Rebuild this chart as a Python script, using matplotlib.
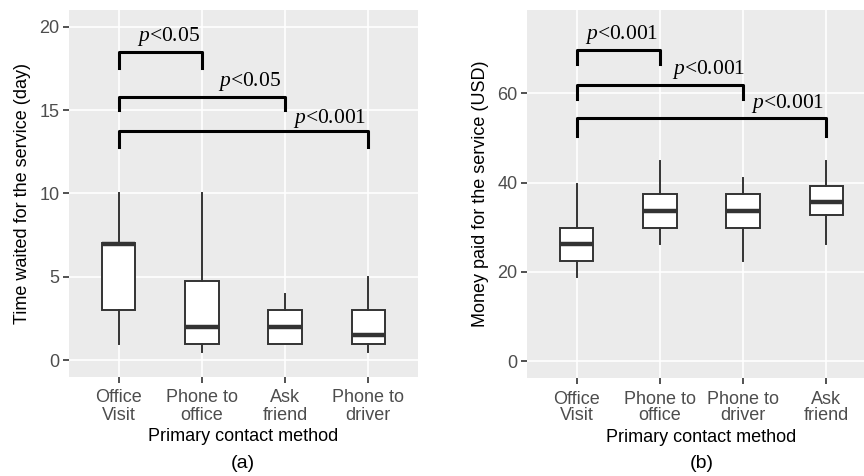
import matplotlib.pyplot as plt

plt.rcParams['font.family'] = ['Liberation Sans', 'DejaVu Sans']
plt.rcParams['mathtext.fontset'] = 'custom'
plt.rcParams['mathtext.it'] = 'Liberation Serif:italic'
plt.rcParams['mathtext.rm'] = 'Liberation Serif'

# (a) waiting time, days
cats_a = ["Office\nVisit", "Phone to\noffice", "Ask\nfriend", "Phone to\ndriver"]
wait_low = [1, 0.5, 1, 0.5]
wait_q1 = [3, 1, 1, 1]
wait_med = [7, 2, 2, 1.5]
wait_q3 = [7.05, 4.75, 3, 3]
wait_high = [10, 10, 4, 5]

# (b) money paid, USD
cats_b = ["Office\nVisit", "Phone to\noffice", "Phone to\ndriver", "Ask\nfriend"]
pay_low = [18.9, 26.2, 22.4, 26.2]
pay_q1 = [22.4, 29.9, 29.9, 32.7]
pay_med = [26.2, 33.7, 33.7, 35.6]
pay_q3 = [29.9, 37.5, 37.5, 39.3]
pay_high = [39.6, 44.9, 41.1, 44.9]

# significance brackets: (to group, bar height, leg bottom, label, label x, label y)
sig_a = [(2, 18.5, 17.5, "<0.05", 1.6, 19.4),
         (3, 15.8, 15.0, "<0.05", 2.57, 16.7),
         (4, 13.75, 12.8, "<0.001", 3.53, 14.5)]
sig_b = [(2, 69.8, 66.6, "<0.001", 1.54, 73.1),
         (3, 61.9, 58.7, "<0.001", 2.58, 65.3),
         (4, 54.4, 50.4, "<0.001", 3.54, 57.8)]

fig = plt.figure(figsize=(8.64, 4.76), dpi=100)
ax_a = fig.add_axes([69/864, 99/476, 349/864, 367/476])
ax_b = fig.add_axes([527/864, 98/476, 349/864, 368/476])


def draw_panel(ax, cats, low, q1, med, q3, high, sigs, ylim, yticks, ylabel):
    stats = []
    for i in range(len(cats)):
        stats.append(dict(whislo=low[i], q1=q1[i], med=med[i], q3=q3[i],
                          whishi=high[i], fliers=[]))
    pos = list(range(1, len(cats) + 1))
    ax.bxp(stats, positions=pos, widths=0.4, patch_artist=True, showcaps=False,
           boxprops=dict(facecolor='white', edgecolor='#333333', linewidth=1.4),
           whiskerprops=dict(color='#333333', linewidth=1.4),
           medianprops=dict(color='#333333', linewidth=3.2))
    for to, y, yleg, lab, tx, ty in sigs:
        ax.plot([1, 1, to, to], [yleg, y, y, yleg], color='black', lw=2.2,
                solid_joinstyle='round', zorder=4)
        ax.text(tx, ty, r"$\it{p}$" + lab, ha='center', va='center',
                fontsize=15.5, family='Liberation Serif', zorder=5)
    ax.set_facecolor('#EBEBEB')
    ax.set_xlim(0.4, 4.6)
    ax.set_ylim(*ylim)
    ax.set_xticks(pos)
    ax.set_xticklabels(cats, linespacing=1.0)
    ax.set_yticks(yticks)
    ax.grid(True, color='white', linewidth=1.2)
    ax.set_axisbelow(True)
    for s in ax.spines.values():
        s.set_visible(False)
    ax.tick_params(length=4, width=1.2, color='#333333', labelcolor='#4D4D4D',
                   labelsize=13, pad=3)
    ax.tick_params(axis='x', pad=5)
    ax.set_xlabel("Primary contact method", fontsize=13, labelpad=3)
    ax.set_ylabel(ylabel, fontsize=13, labelpad=6)


draw_panel(ax_a, cats_a, wait_low, wait_q1, wait_med, wait_q3, wait_high, sig_a,
           (-1.0, 21.0), [0, 5, 10, 15, 20], "Time waited for the service (day)")
draw_panel(ax_b, cats_b, pay_low, pay_q1, pay_med, pay_q3, pay_high, sig_b,
           (-3.8, 78.7), [0, 20, 40, 60], "Money paid for the service (USD)")

fig.text(243/864, 13/476, "(a)", ha='center', va='center', fontsize=14)
fig.text(702/864, 13/476, "(b)", ha='center', va='center', fontsize=14)

fig.savefig("out.png", dpi=100)
